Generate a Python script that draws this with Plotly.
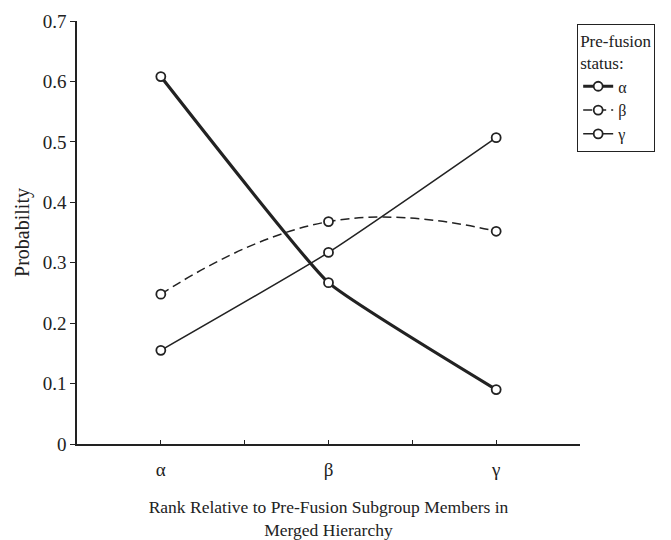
import plotly.graph_objects as go

categories = [1, 2, 3]
tick_vals = [1, 1.5, 2, 2.5, 3, 3.5]
tick_text = ["α", "", "β", "", "γ", ""]
series_names = ["α", "β", "γ"]
alpha_vals = [0.608, 0.267, 0.090]
beta_vals = [0.248, 0.368, 0.352]
gamma_vals = [0.155, 0.317, 0.507]

FONT = "Liberation Serif, Times New Roman, serif"
INK = "#222222"

fig = go.Figure()
styles = [
    (alpha_vals, 3.2, "solid", 0.35),
    (beta_vals, 1.5, "9px,5px", 1.3),
    (gamma_vals, 1.5, "solid", 0.5),
]
for name, (vals, w, dash, sm) in zip(series_names, styles):
    fig.add_trace(go.Scatter(
        x=categories, y=vals, name=name, mode="lines+markers",
        line=dict(color=INK, width=w, dash=dash, shape="spline", smoothing=sm),
        marker=dict(symbol="circle", size=9, color="white",
                    line=dict(color=INK, width=1.8)),
    ))

fig.update_layout(
    width=671, height=540,
    margin=dict(l=77, r=91, t=21, b=96, autoexpand=False),
    paper_bgcolor="white", plot_bgcolor="white",
    font=dict(family=FONT, size=18, color=INK),
    showlegend=True,
    legend=dict(
        x=0.994, y=0.993, xanchor="left", yanchor="top",
        bordercolor=INK, borderwidth=1.2, bgcolor="white",
        title=dict(text="Pre-fusion<br>status:", font=dict(size=17, family=FONT, color=INK), side="top"),
        font=dict(size=16, family=FONT, color=INK),
        tracegroupgap=0, itemwidth=30,
    ),
    xaxis=dict(
        range=[0.5, 3.5], tickmode="array", tickvals=tick_vals, ticktext=tick_text,
        ticks="inside", ticklen=4, tickwidth=1.2, tickcolor=INK,
        showline=True, linecolor=INK, linewidth=1.5, showgrid=False, zeroline=False,
        tickfont=dict(size=19, family=FONT), ticklabelstandoff=7,
        title=dict(text="Rank Relative to Pre-Fusion Subgroup Members in<br>Merged Hierarchy",
                   font=dict(size=17.5, family=FONT), standoff=22),
    ),
    yaxis=dict(
        range=[0, 0.7], tickmode="array",
        tickvals=[0, 0.1, 0.2, 0.3, 0.4, 0.5, 0.6, 0.7],
        ticktext=["0", "0.1", "0.2", "0.3", "0.4", "0.5", "0.6", "0.7"],
        ticks="outside", ticklen=5, tickwidth=1.2, tickcolor=INK,
        showline=True, linecolor=INK, linewidth=1.5, showgrid=False, zeroline=False,
        tickfont=dict(size=19, family=FONT),
        title=dict(text="Probability", font=dict(size=20, family=FONT), standoff=8),
    ),
)

fig.write_html("out.html")
